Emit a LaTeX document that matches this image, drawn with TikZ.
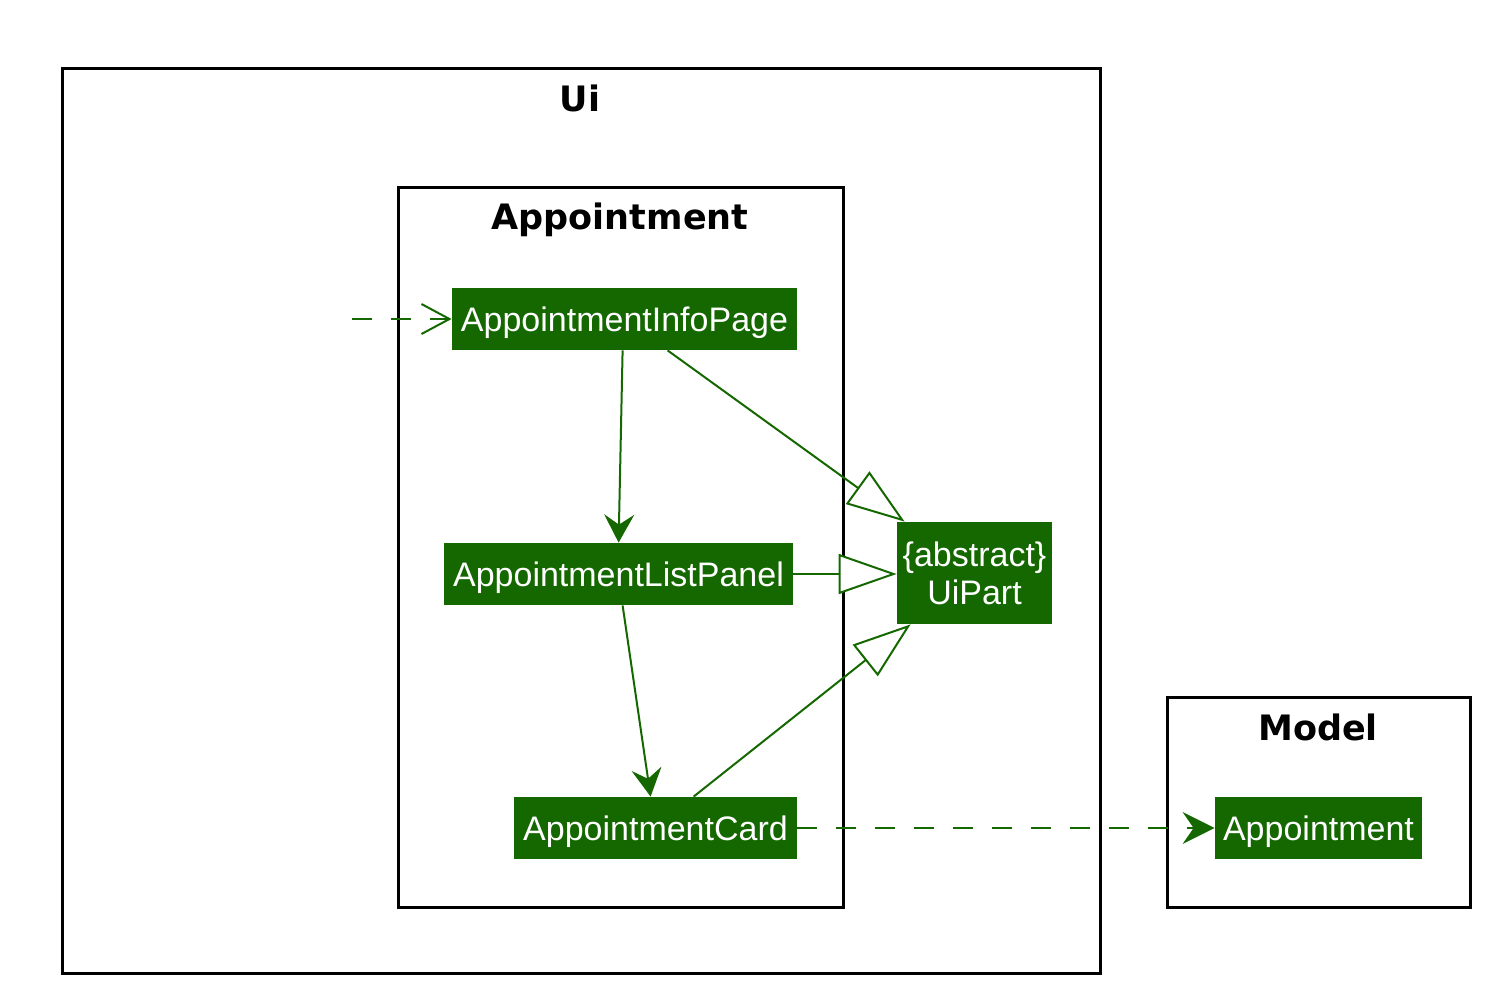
\documentclass[tikz,border=0pt]{standalone}
\usepackage{fontspec}
\setmainfont{Liberation Sans}
\newfontfamily\titlefont{DejaVu Sans}
\usetikzlibrary{arrows.meta,calc}
\definecolor{umlgreen}{RGB}{21,104,0}
\tikzset{
  umlbox/.style={fill=umlgreen, text=white, font=\fontsize{17}{20}\selectfont, inner sep=0pt, minimum height=31pt, align=center},
  oneline/.style={umlbox, text height=14pt, text depth=1.2pt},
  frame/.style={draw=black, line width=1.5pt, inner sep=0pt},
  frametitle/.style={font=\titlefont\bfseries\fontsize{17.5}{20}\selectfont, inner sep=0pt},
  edge/.style={draw=umlgreen, line width=1pt},
  assoc/.style={edge, -{Stealth[length=14pt,width=15pt,inset=5pt]}},
  inherit/.style={edge, -{Triangle[open,length=29pt,width=20pt,fill=white]}},
  depend/.style={edge, dash pattern=on 10pt off 9.5pt},
}
\begin{document}
\begin{tikzpicture}[x=0.5pt,y=-0.5pt]
\useasboundingbox (0,0) rectangle (1498,1002);
% frames
\node[frame, minimum width=519pt, minimum height=452.5pt] (uiframe) at (581,520.5) {};
\node[frametitle] (uititle) at (580,98) {Ui};
\node[frame, minimum width=222.5pt, minimum height=360pt] (apptframe) at (620.5,547) {};
\node[frametitle] (appttitle) at (620,220) {Appointment};
\node[frame, minimum width=151.5pt, minimum height=105pt] (modelframe) at (1318.5,802) {};
\node[frametitle] (modeltitle) at (1318,727) {Model};
% classes
\node[oneline, minimum width=172.5pt] (info) at (624.5,319) {AppointmentInfoPage};
\node[oneline, minimum width=174.5pt] (list) at (618.5,574) {AppointmentListPanel};
\node[oneline, minimum width=141.5pt] (card) at (655.5,828) {AppointmentCard};
\node[umlbox, minimum width=77.5pt, minimum height=51pt, font=\fontsize{17}{19}\selectfont] (uipart) at (974.5,573) {\{abstract\}\\UiPart};
\node[oneline, minimum width=103.5pt] (appt) at (1318.5,828) {Appointment};
\coordinate (entry) at (352,319);
% connectors
\draw[depend, -{Straight Barb[length=14pt,width=15pt]}] (entry) -- (info.west);
\draw[assoc] ($(info.south west)+(171,0)$) -- ($(list.north west)+(175,0)$);
\draw[assoc] ($(list.south west)+(179,0)$) -- ($(card.north west)+(137,0)$);
\draw[inherit] ($(info.south west)+(216,0)$) -- ($(uipart.north west)+(8,0)$);
\draw[inherit] (list.east) -- (list.east -| uipart.west);
\draw[inherit] ($(card.north west)+(180,0)$) -- ($(uipart.south west)+(14,0)$);
\draw[depend, -{Stealth[length=16pt,width=16pt,inset=5.5pt]}] (card.east) -- (appt.west);
\end{tikzpicture}
\end{document}
